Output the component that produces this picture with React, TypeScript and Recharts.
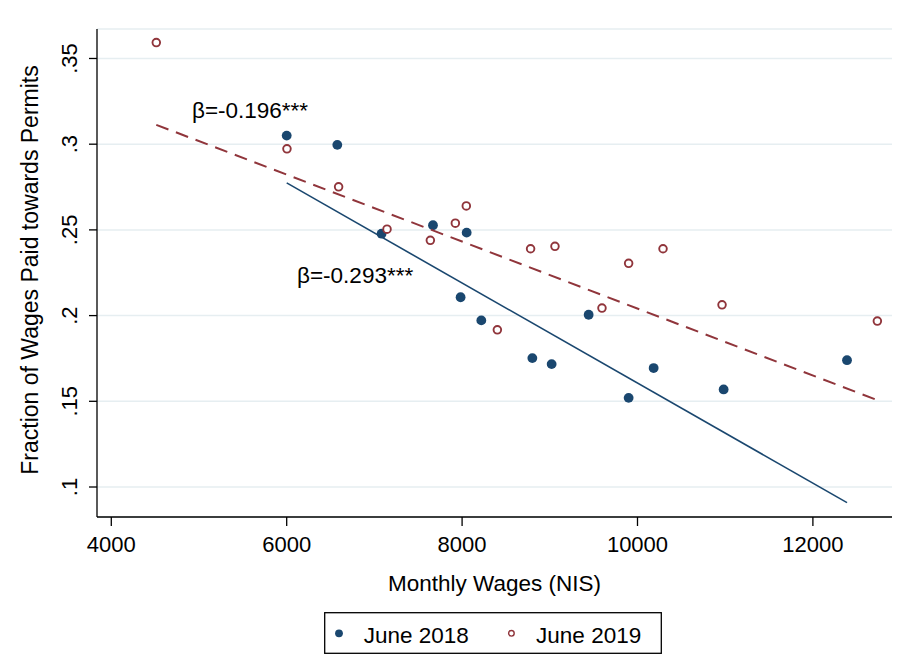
import React from 'react';
import { Legend, ReferenceDot, Scatter, ScatterChart, CartesianGrid, XAxis, YAxis } from 'recharts';

const FONT = '"Liberation Sans", Arial, Helvetica, sans-serif';
const NAVY = '#1a476f';
const MAROON = '#90353b';

// June 2018 wage bins: monthly wage (NIS) vs fraction paid for permits
const june2018 = [
  { x: 6000, y: 0.305 },
  { x: 6577, y: 0.2996 },
  { x: 7082, y: 0.2478 },
  { x: 7668, y: 0.2527 },
  { x: 8052, y: 0.2484 },
  { x: 7983, y: 0.2107 },
  { x: 8219, y: 0.1972 },
  { x: 8801, y: 0.1752 },
  { x: 9021, y: 0.1717 },
  { x: 9443, y: 0.2005 },
  { x: 9899, y: 0.152 },
  { x: 10184, y: 0.1694 },
  { x: 10982, y: 0.1569 },
  { x: 12389, y: 0.174 },
];

const june2019 = [
  { x: 4513, y: 0.3593 },
  { x: 6003, y: 0.2973 },
  { x: 6592, y: 0.2751 },
  { x: 7144, y: 0.2504 },
  { x: 7638, y: 0.2439 },
  { x: 7923, y: 0.2539 },
  { x: 8048, y: 0.264 },
  { x: 8402, y: 0.1917 },
  { x: 8781, y: 0.239 },
  { x: 9059, y: 0.2404 },
  { x: 9899, y: 0.2305 },
  { x: 9595, y: 0.2044 },
  { x: 10291, y: 0.239 },
  { x: 10964, y: 0.2063 },
  { x: 12735, y: 0.1968 },
];

// linear fit endpoints
const fit2018 = [
  { x: 6000, y: 0.2774 },
  { x: 12389, y: 0.0909 },
];
const fit2019 = [
  { x: 4513, y: 0.3113 },
  { x: 12735, y: 0.1507 },
];

const xTicks = [4000, 6000, 8000, 10000, 12000];
const yTicks = [0.1, 0.15, 0.2, 0.25, 0.3, 0.35];

const annotations = [
  { x: 4920, y: 0.3154, text: 'β=-0.196***' },
  { x: 6118, y: 0.2188, text: 'β=-0.293***' },
];

const hollow: Record<string, boolean> = { 'June 2018': false, 'June 2019': true };

const noShape = () => <g />;

const FilledDot = (props: any) => <circle cx={props.cx} cy={props.cy} r={4.9} fill={NAVY} />;
const HollowDot = (props: any) => (
  <circle cx={props.cx} cy={props.cy} r={3.8} fill="#fff" stroke={MAROON} strokeWidth={1.9} />
);

const XTick = ({ x, y, payload }: any) => (
  <text x={x} y={y + 24} textAnchor="middle" fontSize={22} fontFamily={FONT} fill="#000">
    {payload.value}
  </text>
);

const YTick = ({ y, payload }: any) => (
  <text
    x={77}
    y={y}
    transform={`rotate(-90, 77, ${y})`}
    textAnchor="middle"
    fontSize={22}
    fontFamily={FONT}
    fill="#000"
  >
    {String(payload.value).replace(/^0/, '')}
  </text>
);

const renderLegend = (props: any) => {
  const items = (props.payload || []).filter((p: any) => p.type !== 'none');
  const slots = [15, 187.4];
  return (
    <svg width={338} height={42}>
      <rect x={0.7} y={0.7} width={336.6} height={40.6} fill="#fff" stroke="#000" strokeWidth={1.3} />
      {items.map((item: any, i: number) => (
        <g key={item.value}>
          {hollow[item.value] ? (
            <circle cx={slots[i]} cy={21.3} r={2.8} fill="#fff" stroke={MAROON} strokeWidth={1.4} />
          ) : (
            <circle cx={slots[i]} cy={21.3} r={3.9} fill={NAVY} />
          )}
          <text x={slots[i] + 24.7} y={30.6} fontSize={22.5} fontFamily={FONT} fill="#000">
            {item.value}
          </text>
        </g>
      ))}
    </svg>
  );
};

export default function App() {
  return (
    <div style={{ position: 'relative', width: 904, height: 662, margin: -8, background: '#fff' }}>
      <div
        style={{
          position: 'absolute',
          left: 7,
          top: 4,
          right: 0,
          bottom: 0,
          borderTop: '1.5px solid #e6eded',
          borderLeft: '1.5px solid #e6eded',
        }}
      />
      <div style={{ position: 'absolute', left: 0, top: 0 }}>
        <ScatterChart width={904} height={662} margin={{ top: 29, right: 12, left: 0, bottom: 0 }}>
          <CartesianGrid vertical={false} stroke="#e6eef1" strokeWidth={1.5} />
          <XAxis
            type="number"
            dataKey="x"
            domain={[3837, 12902]}
            ticks={xTicks}
            allowDataOverflow
            height={145}
            tickSize={9}
            tick={<XTick />}
            stroke="#000"
            strokeWidth={1.3}
            label={({ viewBox }: any) => (
              <text
                x={viewBox.x + viewBox.width / 2}
                y={591}
                textAnchor="middle"
                fontSize={22.5}
                fontFamily={FONT}
                fill="#000"
              >
                Monthly Wages (NIS)
              </text>
            )}
          />
          <YAxis
            type="number"
            dataKey="y"
            domain={[0.0825, 0.3672]}
            ticks={yTicks}
            allowDataOverflow
            width={97}
            tickSize={8}
            tick={<YTick />}
            stroke="#000"
            strokeWidth={1.3}
            label={() => (
              <text
                x={38}
                y={270}
                transform="rotate(-90, 38, 270)"
                textAnchor="middle"
                fontSize={23}
                fontFamily={FONT}
                fill="#000"
              >
                Fraction of Wages Paid towards Permits
              </text>
            )}
          />
          <Legend
            layout="horizontal"
            verticalAlign="middle"
            align="center"
            content={renderLegend}
            wrapperStyle={{ left: 324, top: 612, width: 338, height: 42 }}
          />
          <Scatter name="June 2018" data={june2018} fill={NAVY} shape={FilledDot} isAnimationActive={false} />
          <Scatter name="June 2019" data={june2019} fill={MAROON} shape={HollowDot} isAnimationActive={false} />
          <Scatter
            name="fit 2018"
            data={fit2018}
            legendType="none"
            line={{ stroke: NAVY, strokeWidth: 1.6 }}
            shape={noShape}
            isAnimationActive={false}
          />
          <Scatter
            name="fit 2019"
            data={fit2019}
            legendType="none"
            line={{ stroke: MAROON, strokeWidth: 2, strokeDasharray: '13 8' }}
            shape={noShape}
            isAnimationActive={false}
          />
          {annotations.map((a) => (
            <ReferenceDot
              key={a.text}
              x={a.x}
              y={a.y}
              r={0}
              fill="none"
              stroke="none"
              label={({ viewBox }: any) => (
                <text x={viewBox.x} y={viewBox.y} fontSize={22.5} fontFamily={FONT} fill="#000">
                  {a.text}
                </text>
              )}
            />
          ))}
        </ScatterChart>
      </div>
    </div>
  );
}
